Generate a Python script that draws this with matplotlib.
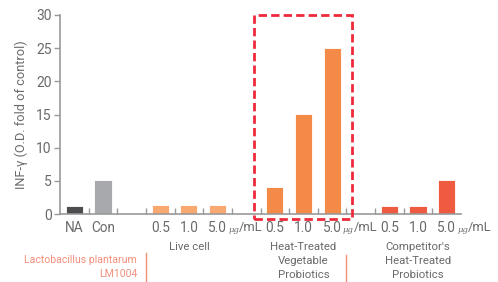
import matplotlib
matplotlib.use("Agg")
import matplotlib.pyplot as plt
from matplotlib.patches import Rectangle
from matplotlib.lines import Line2D

plt.rcParams['font.family'] = ['Roboto', 'DejaVu Sans']

# data
categories = ["NA", "Con", "", "0.5", "1.0", "5.0", "", "0.5", "1.0", "5.0", "", "0.5", "1.0", "5.0"]
values = [1.2, 5.2, None, 1.35, 1.35, 1.35, None, 4.0, 15.1, 25.0, None, 1.2, 1.2, 5.2]
groups = ["NA", "Con", "", "live", "live", "live", "", "heat", "heat", "heat", "", "comp", "comp", "comp"]
group_labels = {"live": ["Live cell"],
                "heat": ["Heat-Treated", "Vegetable", "Probiotics"],
                "comp": ["Competitor's", "Heat-Treated", "Probiotics"]}
colors = {"NA": "#4d4d4f", "Con": "#a7a9ac", "live": "#f9a870",
          "heat": "#f48a47", "comp": "#ef5b41"}
yticks = [0, 5, 10, 15, 20, 25, 30]
ylabel = "INF-γ (O.D. fold of control)"
strain_lines = ["Lactobacillus plantarum", "LM1004"]

W, H = 498, 282
fig = plt.figure(figsize=(W / 100, H / 100), dpi=100)
ax = fig.add_axes([60 / W, 1 - 214 / H, (461 - 60) / W, (214 - 15) / H])

text_c = "#6a6a6a"
for i, (v, g) in enumerate(zip(values, groups)):
    if v is None:
        continue
    ax.bar(i, v, width=0.6, color=colors[g], edgecolor="white", linewidth=0.6, zorder=2)

ax.set_xlim(-0.5, 13.5)
ax.set_ylim(0, 30)
ax.set_yticks(yticks)
ax.tick_params(axis='y', direction='out', length=4, width=1, color="#999999",
               labelsize=10, labelcolor=text_c, pad=2)
ax.set_xticks([k + 0.5 for k in range(0, 13)])
ax.set_xticklabels([])
ax.tick_params(axis='x', direction='in', length=4, width=1, color="#999999")
for s in ["top", "right"]:
    ax.spines[s].set_visible(False)
for s in ["left", "bottom"]:
    ax.spines[s].set_color("#999999")
    ax.spines[s].set_linewidth(1.2)

ax.set_ylabel(ylabel, fontsize=9.2, color=text_c, labelpad=6)


def py(p):
    """figure pixel row -> figure fraction"""
    return 1 - p / H


# category labels
for i, c in enumerate(categories):
    if not c:
        continue
    xd = ax.transData.transform((i, 0))[0]
    fig.text(xd / W, py(228), c, ha="center", va="center",
             fontsize=9.8, color=text_c)
    if c == "5.0":
        fig.text((xd + 11) / W, py(229.5), "μg", ha="left", va="center",
                 fontsize=6, color=text_c, family="DejaVu Serif", style="italic")
        fig.text((xd + 21.5) / W, py(228), "/mL", ha="left", va="center",
                 fontsize=9.3, color=text_c)

# group labels
for g, lines in group_labels.items():
    idx = [i for i, gg in enumerate(groups) if gg == g]
    xc = ax.transData.transform((sum(idx) / len(idx), 0))[0]
    for k, line in enumerate(lines):
        fig.text(xc / W, py(247 + 14 * k), line, ha="center", va="center",
                 fontsize=8.2, color=text_c)

# strain label and separators
salmon = "#f2907c"
for k, line in enumerate(strain_lines):
    fig.text(137 / W, py(260 + 14 * k), line, ha="right", va="center", fontsize=7.6,
             color=salmon)
fig.add_artist(Line2D([146 / W, 146 / W], [py(253), py(282)], color=salmon, lw=1))
fig.add_artist(Line2D([346 / W, 346 / W], [py(255), py(282)], color=salmon, lw=1))

# highlight box
rect = Rectangle((6.28, -0.75), 9.71 - 6.28, 30 + 0.75, fill=False, edgecolor="#ee2a3a",
                 linestyle=(0, (3, 1.5)), linewidth=2, clip_on=False, zorder=3)
ax.add_patch(rect)

fig.savefig("out.png", dpi=100)
